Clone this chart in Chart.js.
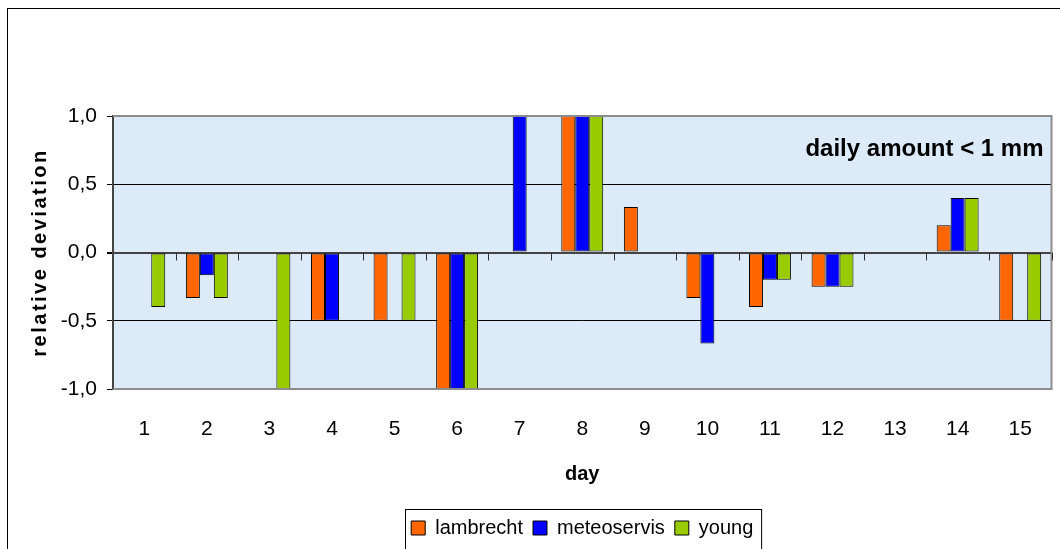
<!DOCTYPE html>
<html>
<head>
<meta charset="utf-8">
<script src="https://cdn.jsdelivr.net/npm/chart.js@4"></script>
<style>
  html, body { margin: 0; padding: 0; background: #fff; }
  canvas { display: block; }
</style>
</head>
<body>
<canvas id="chart" width="1060" height="549"></canvas>
<script>
const days = ["1", "2", "3", "4", "5", "6", "7", "8", "9", "10", "11", "12", "13", "14", "15"];
const lambrecht   = [null, -0.333, null, -0.5, -0.5, -1, null, 1, 0.333, -0.333, -0.4, -0.25, null, 0.2, -0.5];
const meteoservis = [null, -0.167, null, -0.5, null, -1, 1, 1, null, -0.667, -0.2, -0.25, null, 0.4, null];
const young       = [-0.4, -0.333, -1, null, -0.5, -1, null, 1, null, null, -0.2, -0.25, null, 0.4, -0.5];
const yTickLabels = ["-1,0", "-0,5", "0,0", "0,5", "1,0"];
const note = "daily amount < 1 mm";

const FONT = "'Liberation Sans', Arial, sans-serif";

const frame = {
  id: "frame",
  beforeDraw(chart) {
    const { ctx, chartArea: a } = chart;
    ctx.save();
    ctx.strokeStyle = "#000";
    ctx.lineWidth = 1;
    ctx.strokeRect(7.5, 8.5, 1100, 600);
    ctx.fillStyle = "#ddebf9";
    ctx.fillRect(a.left, a.top, a.right - a.left, a.bottom - a.top);
    ctx.restore();
  },
  afterDraw(chart) {
    const { ctx, chartArea: a, scales } = chart;
    const x = scales.x, y = scales.y;
    ctx.save();
    // plot border (top, right, bottom)
    ctx.strokeStyle = "#8c8c8c";
    ctx.lineWidth = 2;
    ctx.beginPath();
    ctx.moveTo(a.left, a.top);
    ctx.lineTo(a.right, a.top);
    ctx.lineTo(a.right, a.bottom);
    ctx.lineTo(a.left, a.bottom);
    ctx.stroke();
    // category ticks on the zero line
    const y0 = y.getPixelForValue(0);
    ctx.strokeStyle = "#333";
    ctx.lineWidth = 1;
    ctx.beginPath();
    for (let i = 0; i < days.length; i++) {
      const px = Math.round((x.getPixelForValue(i) + x.getPixelForValue(i + 1)) / 2) + 0.5;
      ctx.moveTo(px, y0);
      ctx.lineTo(px, y0 + 8);
    }
    ctx.stroke();
    // note
    ctx.fillStyle = "#000";
    ctx.font = "bold 24px " + FONT;
    ctx.textAlign = "right";
    ctx.textBaseline = "middle";
    ctx.fillText(note, a.right - 8, 149);
    // legend border
    const hb = chart.legend.legendHitBoxes;
    if (hb && hb.length) {
      const l = Math.min(...hb.map(h => h.left)) - 6;
      const r = Math.max(...hb.map(h => h.left + h.width)) + 8;
      const t = Math.min(...hb.map(h => h.top)) - 9;
      ctx.strokeStyle = "#000";
      ctx.lineWidth = 1;
      ctx.strokeRect(Math.round(l) + 0.5, Math.round(t) + 0.5, r - l, 60);
    }
    ctx.restore();
  }
};

const mkSet = (label, data, color) => ({
  label,
  data,
  backgroundColor: color,
  borderColor: "#000",
  borderWidth: 1,
  borderSkipped: false,
  barPercentage: 1,
  categoryPercentage: 0.67
});

new Chart(document.getElementById("chart"), {
  type: "bar",
  data: {
    labels: days,
    datasets: [
      mkSet("lambrecht", lambrecht, "#ff6600"),
      mkSet("meteoservis", meteoservis, "#0000ff"),
      mkSet("young", young, "#99cc00")
    ]
  },
  options: {
    responsive: false,
    animation: false,
    layout: { padding: { top: 116, right: 3, left: 0, bottom: 1 } },
    plugins: {
      tooltip: { enabled: false },
      legend: {
        position: "bottom",
        fullSize: false,
        labels: {
          color: "#000",
          font: { family: FONT, size: 20 },
          boxWidth: 14,
          boxHeight: 14,
          padding: 10
        }
      }
    },
    scales: {
      x: {
        grid: { display: false, drawTicks: false },
        border: { display: false },
        ticks: { color: "#000", font: { family: FONT, size: 21 }, padding: 28, maxRotation: 0 },
        title: {
          display: true,
          text: "day",
          color: "#000",
          font: { family: FONT, size: 20, weight: "bold" },
          padding: { top: 0, bottom: 22 }
        },
        afterFit(scale) { scale.height = 119; }
      },
      y: {
        min: -1,
        max: 1,
        ticks: {
          stepSize: 0.5,
          color: "#000",
          font: { family: FONT, size: 21 },
          padding: 10,
          callback: (v, i) => yTickLabels[i]
        },
        grid: {
          color: ctx => {
            const v = ctx.tick && ctx.tick.value;
            if (v === 0) return "#444";
            if (Math.abs(v) === 1) return "#8c8c8c";
            return "#000";
          },
          lineWidth: ctx => (ctx.tick && ctx.tick.value === 0 ? 2 : 1),
          tickColor: "#000",
          tickLength: 6
        },
        border: { color: "#444", width: 2 },
        title: {
          display: true,
          text: "relative deviation",
          color: "#000",
          font: { family: FONT, size: 20, weight: "bold" },
          padding: { top: 28, bottom: 0 }
        },
        afterFit(scale) {
          scale.width = 113;
          if (!scale._spaced) {
            const orig = scale.drawTitle;
            scale.drawTitle = function () {
              this.ctx.save();
              this.ctx.letterSpacing = "2.5px";
              orig.call(this);
              this.ctx.restore();
            };
            scale._spaced = true;
          }
        }
      }
    }
  },
  plugins: [frame]
});
</script>
</body>
</html>
